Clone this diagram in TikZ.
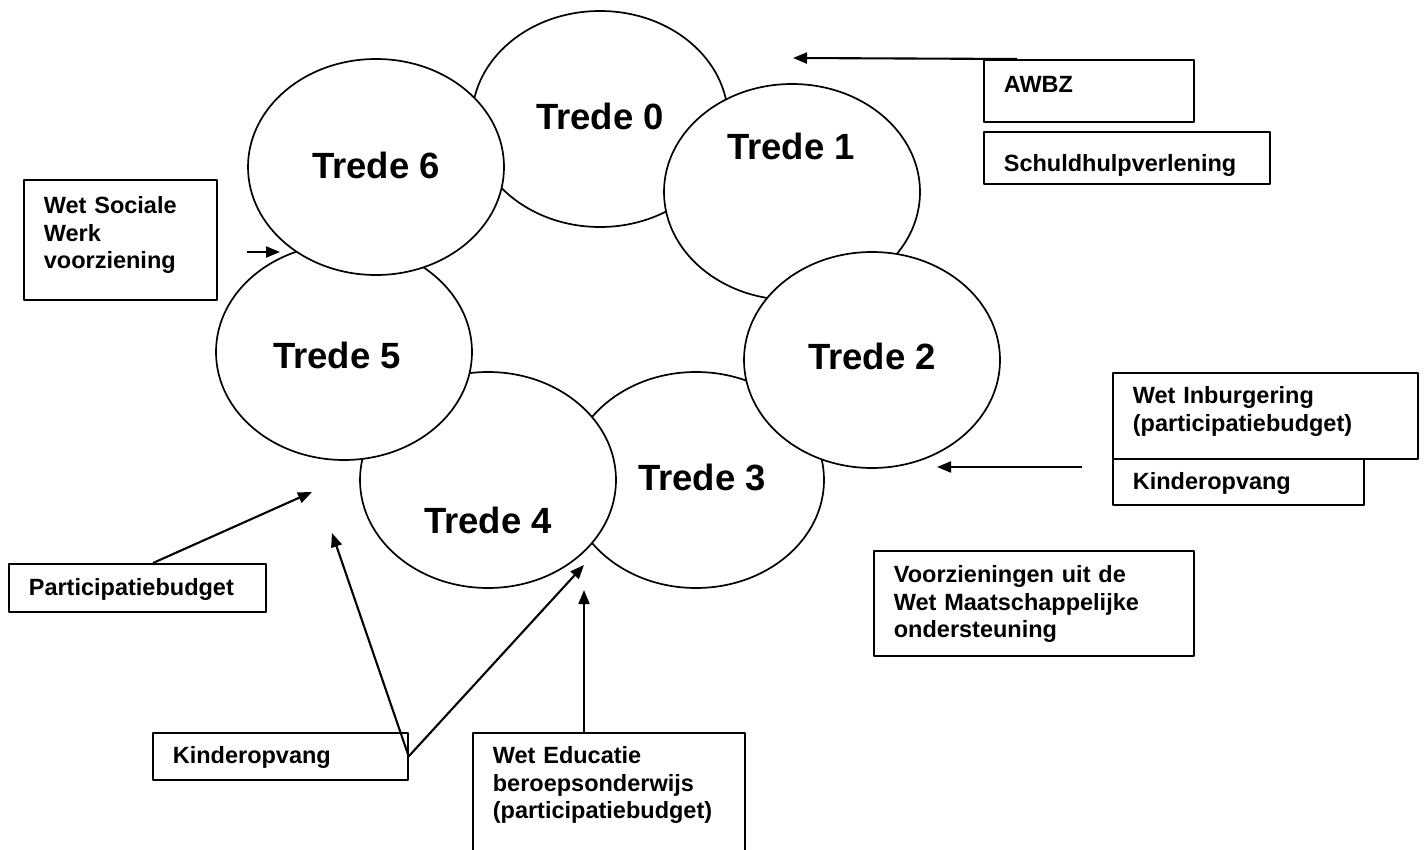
\documentclass[tikz,border=0pt]{standalone}
\usepackage{fontspec}
\setmainfont{Liberation Sans}
\usetikzlibrary{shapes.geometric,arrows.meta,calc}
\begin{document}
\begin{tikzpicture}[x=1pt,y=-1pt,line join=round,
	trede/.style={ellipse,draw,fill=white,line width=1.7pt,minimum width=256pt,minimum height=216pt,inner sep=0pt},
	tredetxt/.style={font=\bfseries\fontsize{36.5}{40}\selectfont,inner sep=0pt},
	vak/.style={draw,line width=1.7pt,anchor=north west,align=left,inner xsep=20pt,inner ysep=0pt,font=\bfseries\fontsize{23.5}{27.5}\selectfont},
	pijl/.style={-{Triangle[length=14pt,width=11pt]},line width=2.1pt}]
	\useasboundingbox (0,0) rectangle (1424,850);
	% de treden
	\foreach \n/\x/\y/\tx/\ty in {0/600/119/600/116, 1/792/192/791/146, 3/696/480/702/477, 2/872/360/872/356, 4/488/480/488/520, 5/344/352/337/355, 6/376/167/376/165}{
		\node[trede] (t\n) at (\x,\y) {};
		\node[tredetxt] (l\n) at (\tx,\ty) {Trede \n};
	};
	% de regelingen
	\node[vak,text width=153pt,text height=34pt,text depth=86pt] (wsw) at (23,179) {Wet Sociale\\Werk\\voorziening};
	\node[vak,text width=170pt,text height=33pt,text depth=29pt] (awbz) at (983,59) {AWBZ};
	\node[vak,text width=246pt,text height=40pt,text depth=12pt] (schuld) at (983,131) {Schuldhulpverlening};
	\node[vak,text width=265pt,text height=31pt,text depth=55pt] (inburg) at (1112,372) {Wet Inburgering\\(participatiebudget)};
	\node[vak,text width=211pt,text height=31pt,text depth=15pt] (kinderR) at (1112,458) {Kinderopvang};
	\node[vak,text width=280pt,text height=32pt,text depth=73pt] (wmo) at (873,550) {Voorzieningen uit de\\Wet Maatschappelijke\\ondersteuning};
	\node[vak,text width=217pt,text height=32pt,text depth=16pt] (part) at (8,563) {Participatiebudget};
	\node[vak,text width=215pt,text height=31pt,text depth=16pt] (kinderL) at (152,732) {Kinderopvang};
	\node[vak,text width=232pt,text height=31pt,text depth=100pt] (educ) at (472,732) {Wet Educatie\\beroepsonderwijs\\(participatiebudget)};
	% pijlen
	\coordinate (awbzTip) at (793,58);
	\coordinate (inbStart) at (1082,467);
	\coordinate (inbTip) at (937,467);
	\coordinate (wswStart) at (247,252);
	\coordinate (wswTip) at (280,252);
	\coordinate (partTip) at (312,492);
	\coordinate (kinderTipA) at (332,533);
	\coordinate (kinderTipB) at (584,565);
	\coordinate (educTip) at (584,590);
	\draw[pijl] ($(awbz.north west)+(34,0)$) -- (awbzTip);
	\draw[pijl] (inbStart) -- (inbTip);
	\draw[pijl] (wswStart) -- (wswTip);
	\draw[pijl] ($(part.north west)+(145,0)$) -- (partTip);
	\draw[pijl] (kinderL.east) -- (kinderTipA);
	\draw[pijl] (kinderL.east) -- (kinderTipB);
	\draw[pijl] ($(educ.north west)+(112,0)$) -- (educTip);
\end{tikzpicture}
\end{document}
